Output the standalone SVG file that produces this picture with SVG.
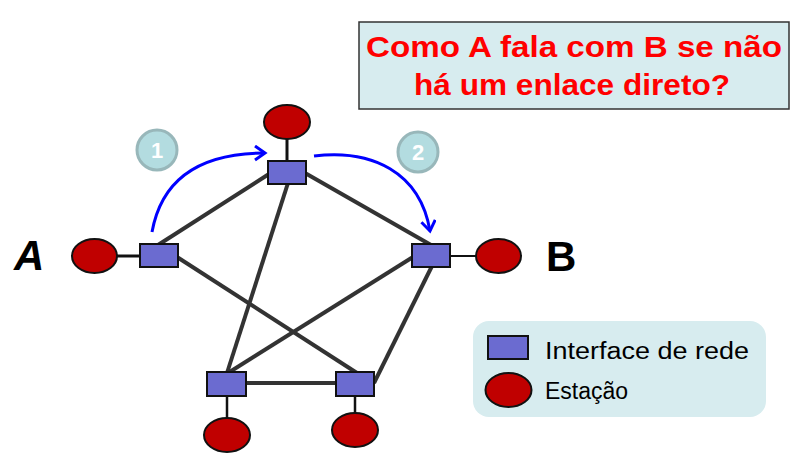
<svg xmlns="http://www.w3.org/2000/svg" width="798" height="476" viewBox="0 0 798 476">
  <style>
    .iface { fill: #6b6bd0; stroke: #111; stroke-width: 2; }
    .sta { fill: #c00000; stroke: #111; stroke-width: 2; }
    .link { stroke: #333; stroke-width: 4; fill: none; }
    .tap { stroke: #111; stroke-width: 3; fill: none; }
    .flow { stroke: #0000ff; stroke-width: 3; fill: none; }
    .badge { fill: #b3dce0; stroke: #98b7ba; stroke-width: 3; }
    .badgetxt { font-family: "Liberation Sans", sans-serif; font-weight: bold; font-size: 22px; fill: #fff; text-anchor: middle; }
    .title { font-family: "Liberation Sans", sans-serif; font-weight: bold; font-size: 30px; fill: #ff0000; text-anchor: middle; }
    .big { font-family: "Liberation Sans", sans-serif; font-weight: bold; font-size: 42px; fill: #000; }
    .leg { font-family: "Liberation Sans", sans-serif; font-size: 23px; fill: #000; }
  </style>
  <defs>
    <marker id="chev" markerUnits="userSpaceOnUse" markerWidth="20" markerHeight="20" refX="12" refY="8" orient="auto">
      <path d="M2,1 L12,8 L2,15" fill="none" stroke="#0000ff" stroke-width="3" stroke-linejoin="miter"/>
    </marker>
  </defs>

  <rect width="798" height="476" fill="#fff"/>

  <g id="title">
    <rect x="359" y="22" width="430" height="87" fill="#d7ecef" stroke="#333" stroke-width="1.5"/>
    <text class="title" x="574" y="57" textLength="416" lengthAdjust="spacingAndGlyphs">Como A fala com B se não</text>
    <text class="title" x="572" y="95" textLength="316" lengthAdjust="spacingAndGlyphs">há um enlace direto?</text>
  </g>

  <g id="connectors">
    <line class="link" x1="158" y1="245" x2="269" y2="174"/>
    <line class="link" x1="177" y1="257" x2="357" y2="373"/>
    <line class="link" x1="288" y1="183" x2="227" y2="373"/>
    <line class="link" x1="305" y1="173" x2="431" y2="245"/>
    <line class="link" x1="413" y1="257" x2="228" y2="373"/>
    <line class="link" x1="432" y1="266" x2="374" y2="383"/>
    <line class="link" x1="246" y1="383" x2="336" y2="383"/>
    <line class="tap" x1="287" y1="139" x2="287" y2="161"/>
    <line class="tap" x1="117" y1="256" x2="140" y2="256"/>
    <line x1="450" y1="256" x2="476" y2="256" stroke="#111" stroke-width="2"/>
    <line x1="227" y1="396" x2="227" y2="418" stroke="#111" stroke-width="2.5"/>
    <line x1="355" y1="396" x2="355" y2="413" stroke="#111" stroke-width="2.5"/>
    <path class="flow" d="M152,232 C160,188 190,153 265,153" marker-end="url(#chev)"/>
    <path class="flow" d="M314,156 C372,149 420,172 430,231" marker-end="url(#chev)"/>
  </g>

  <g id="node-top">
    <ellipse class="sta" cx="287" cy="122" rx="23" ry="17"/>
    <rect class="iface" x="268" y="161" width="38" height="23"/>
  </g>
  <g id="node-A">
    <ellipse class="sta" cx="94.5" cy="256" rx="22.5" ry="17"/>
    <rect class="iface" x="140" y="244" width="38" height="23"/>
    <text class="big" x="14" y="270" font-style="italic">A</text>
  </g>
  <g id="node-B">
    <rect class="iface" x="412" y="244" width="38" height="23"/>
    <ellipse class="sta" cx="498.5" cy="256" rx="22.5" ry="17"/>
    <text class="big" x="546" y="271">B</text>
  </g>
  <g id="node-bottom-left">
    <rect class="iface" x="207" y="372" width="39" height="24"/>
    <ellipse class="sta" cx="227" cy="435" rx="23" ry="17"/>
  </g>
  <g id="node-bottom-right">
    <rect class="iface" x="336" y="372" width="38" height="24"/>
    <ellipse class="sta" cx="355" cy="430" rx="23" ry="17"/>
  </g>

  <g id="badge-1">
    <circle class="badge" cx="157" cy="150" r="20"/>
    <text class="badgetxt" x="157" y="158">1</text>
  </g>
  <g id="badge-2">
    <circle class="badge" cx="418" cy="152" r="20"/>
    <text class="badgetxt" x="418" y="160">2</text>
  </g>

  <g id="legend">
    <rect x="473" y="321" width="293" height="96" rx="16" fill="#d7ecef"/>
    <rect class="iface" x="488" y="336" width="40" height="23"/>
    <text class="leg" x="545" y="359" textLength="204" lengthAdjust="spacingAndGlyphs">Interface de rede</text>
    <ellipse class="sta" cx="508.5" cy="390" rx="23" ry="17"/>
    <text class="leg" x="545" y="399">Estação</text>
  </g>
</svg>
